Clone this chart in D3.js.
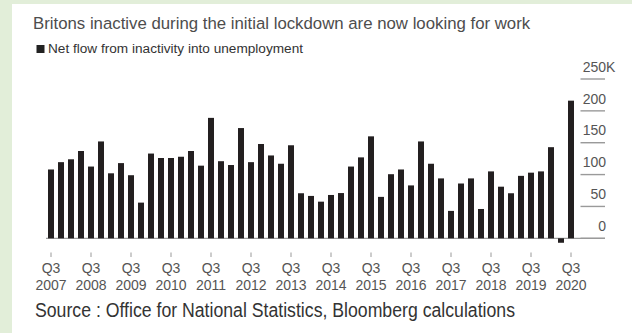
<!DOCTYPE html>
<html>
<head>
<meta charset="utf-8">
<script src="https://cdn.jsdelivr.net/npm/d3@7"></script>
<style>
  html, body { margin: 0; padding: 0; background: #ffffff; }
  svg { display: block; }
</style>
</head>
<body>
<svg id="chart" width="632" height="333"></svg>
<script>
// ---- Data ----
const quarters = [];
(function () {
  // Q3 2007 .. Q3 2020 labels
  const qs = ["Q3", "Q4", "Q1", "Q2"];
  let year = 2007;
  for (let i = 0; i < 53; i++) {
    const q = qs[i % 4];
    if (q === "Q1") year += 1;
    quarters.push(q + " " + year);
  }
})();

const netFlow = [
  108, 119.5, 124, 137, 112.6, 152, 102, 118, 99, 56,
  133, 126, 126, 128, 137, 114, 189, 121, 115, 173,
  119.5, 148, 130, 117, 146, 70.7, 66.5, 57.5, 68, 71,
  112.6, 127, 160, 65, 100.6, 108, 83, 152, 117, 94,
  43, 86, 94, 46, 105, 81, 70.7, 98, 103, 105,
  143, -7, 216
];

const yTicks = [0, 50, 100, 150, 200, 250];
const xTickLabels = ["Q3 2007", "Q3 2008", "Q3 2009", "Q3 2010", "Q3 2011", "Q3 2012", "Q3 2013",
  "Q3 2014", "Q3 2015", "Q3 2016", "Q3 2017", "Q3 2018", "Q3 2019", "Q3 2020"];

const title = "Britons inactive during the initial lockdown are now looking for work";
const legendLabel = "Net flow from inactivity into unemployment";
const source = "Source : Office for National Statistics, Bloomberg calculations";

// ---- Drawing ----
const svg = d3.select("#chart");
const sans = "'Liberation Sans', Arial, Helvetica, sans-serif";

// background frame (light green on left and top)
svg.append("rect").attr("x", 0).attr("y", 0).attr("width", 632).attr("height", 333).attr("fill", "#e2eed9");
svg.append("rect").attr("x", 12).attr("y", 4).attr("width", 620).attr("height", 329).attr("fill", "#ffffff");

const x = d3.scaleBand().domain(quarters).range([46, 576]).paddingInner(0.4).paddingOuter(0.2);
const y = d3.scaleLinear().domain([0, 250]).range([238.3, 79]);

// title + legend
svg.append("text").attr("x", 33).attr("y", 28.5)
  .attr("font-family", sans).attr("font-size", 16.8).attr("fill", "#4d4d4d").text(title);
svg.append("rect").attr("x", 36.5).attr("y", 45).attr("width", 8).attr("height", 8).attr("fill", "#222");
svg.append("text").attr("x", 48).attr("y", 53)
  .attr("font-family", sans).attr("font-size", 12.5).attr("fill", "#333")
  .attr("textLength", 255).attr("lengthAdjust", "spacingAndGlyphs").text(legendLabel);

// gridlines (short segments at right) + baseline
const grid = svg.append("g");
grid.selectAll("line.g").data(yTicks).join("line")
  .attr("x1", 580.5).attr("x2", 605)
  .attr("y1", d => y(d)).attr("y2", d => y(d))
  .attr("stroke", "#9a9a9a").attr("stroke-width", 1.4);
grid.append("line").attr("x1", 46).attr("x2", 605).attr("y1", y(0)).attr("y2", y(0))
  .attr("stroke", "#9a9a9a").attr("stroke-width", 1.2);

// y labels
const yl = svg.append("g").attr("font-family", sans).attr("font-size", 14).attr("fill", "#555");
yl.selectAll("text").data(yTicks).join("text")
  .attr("x", 606).attr("y", d => y(d) - 7.3).attr("text-anchor", "end")
  .text(d => d);
yl.append("text").attr("x", 606).attr("y", y(250) - 7.3).text("K");

// bars
svg.append("g").selectAll("rect").data(netFlow).join("rect")
  .attr("x", (d, i) => x(quarters[i]))
  .attr("width", x.bandwidth())
  .attr("y", d => y(Math.max(0, d)))
  .attr("height", d => Math.abs(y(d) - y(0)))
  .attr("fill", "#231f20");

// x ticks + labels
const xa = svg.append("g");
xa.selectAll("line").data(xTickLabels).join("line")
  .attr("x1", d => x(d) + x.bandwidth() / 2).attr("x2", d => x(d) + x.bandwidth() / 2)
  .attr("y1", 252.5).attr("y2", 257).attr("stroke", "#999").attr("stroke-width", 1);
const xt = xa.selectAll("text").data(xTickLabels).join("text")
  .attr("font-family", sans).attr("font-size", 14).attr("fill", "#555")
  .attr("text-anchor", "middle");
xt.append("tspan").attr("x", d => x(d) + x.bandwidth() / 2).attr("y", 273).text(d => d.split(" ")[0]);
xt.append("tspan").attr("x", d => x(d) + x.bandwidth() / 2).attr("y", 290).text(d => d.split(" ")[1]);

// source (condensed look)
svg.append("text").attr("x", 35).attr("y", 317)
  .attr("font-family", sans)
  .attr("font-size", 20).attr("fill", "#333")
  .attr("textLength", 480).attr("lengthAdjust", "spacingAndGlyphs").text(source);
</script>
</body>
</html>
